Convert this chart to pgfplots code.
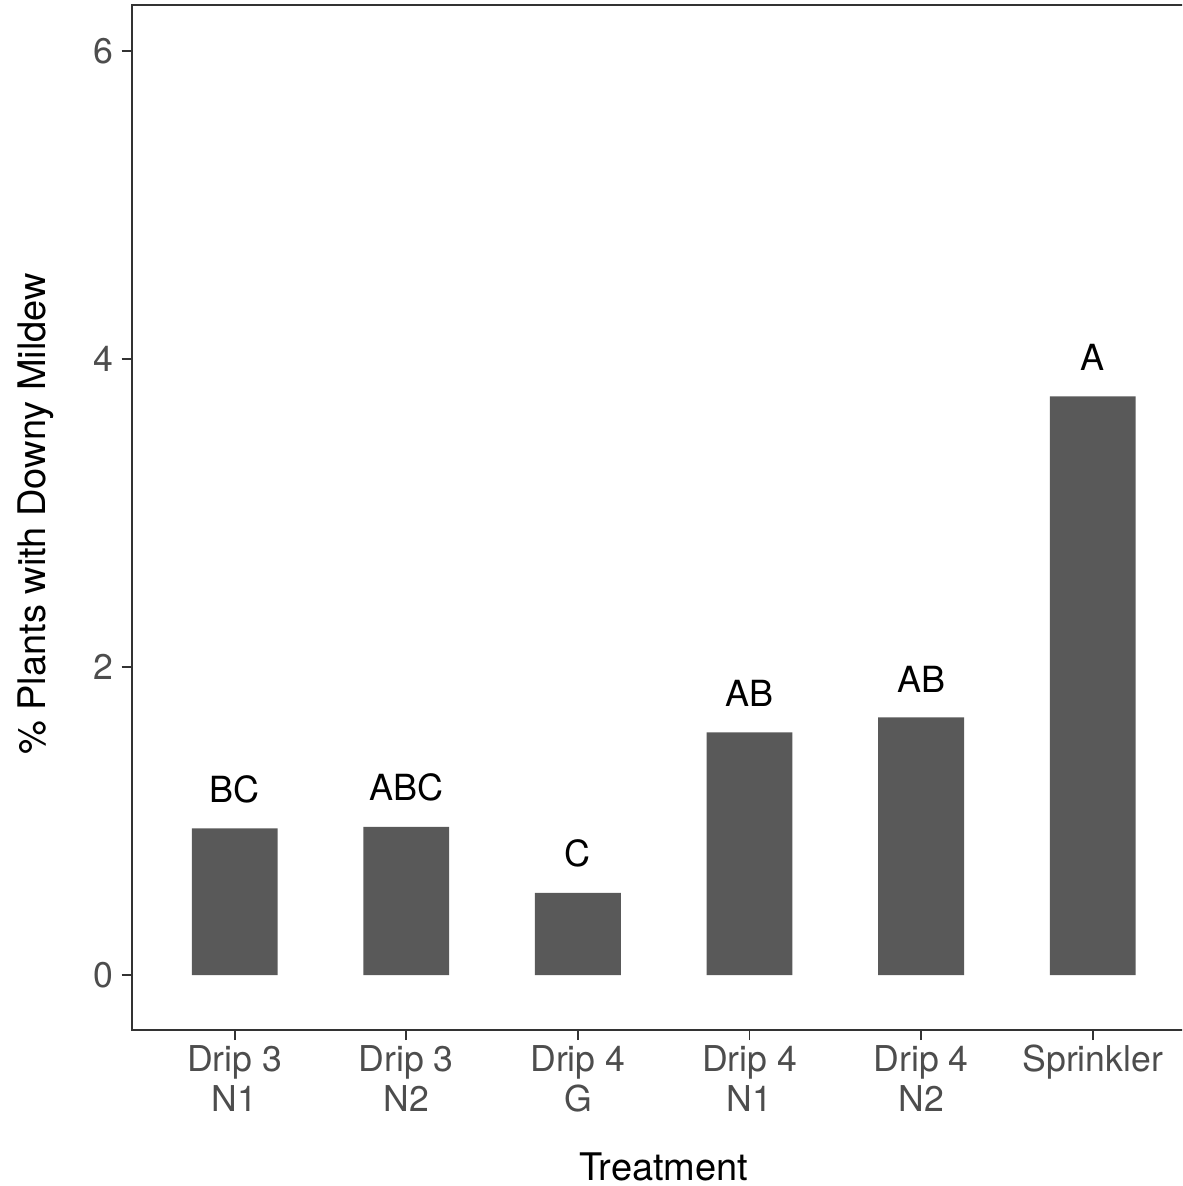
\documentclass[border=0pt]{standalone}
\usepackage{fontspec}
\setmainfont{TeX Gyre Heros}
\usepackage{pgfplots}
\usepackage{pgfplotstable}
\pgfplotsset{compat=1.18}
\definecolor{barfill}{HTML}{595959}
\definecolor{ticktext}{HTML}{4D4D4D}
\definecolor{framecol}{HTML}{333333}

\pgfplotstableread{
x y lab
1 0.953 BC
2 0.963 ABC
3 0.534 C
4 1.576 AB
5 1.673 AB
6 3.758 A
}\datatable

\begin{document}
\begin{tikzpicture}
\useasboundingbox (-65.85pt,-78pt) rectangle (525.15pt,515pt);
\clip (-65.85pt,-78pt) rectangle (525.15pt,515pt);
\begin{axis}[
  at={(0pt,0pt)}, anchor=south west,
  scale only axis, width=532pt, height=512.5pt,
  xmin=0.4, xmax=6.6, ymin=-0.357, ymax=6.3,
  axis line style={framecol, line width=0.9pt},
  tick style={framecol, line width=0.9pt},
  tick align=outside, major tick length=5pt,
  tick pos=left,
  xtick={1,2,3,4,5,6},
  xticklabels={{Drip 3\\N1},{Drip 3\\N2},{Drip 4\\G},{Drip 4\\N1},{Drip 4\\N2},{Sprinkler}},
  ytick={0,2,4,6},
  /pgf/number format/assume math mode=true,
  tick label style={font=\fontsize{17.8}{20}\selectfont, text=ticktext},
  xticklabel style={align=center, inner sep=0pt, yshift=-2.5pt},
  yticklabel style={inner sep=0pt, xshift=-4pt},
  xlabel={Treatment},
  xlabel style={at={(axis description cs:0.5,-0.14634)}, anchor=base, font=\fontsize{19}{22}\selectfont, text=black},
  ylabel={\% Plants with Downy Mildew},
  ylabel style={at={(axis description cs:-0.0810,0.5034)}, anchor=base, font=\fontsize{19}{22}\selectfont, text=black},
]
\addplot[ybar, bar width=0.5, fill=barfill, draw=none,
  nodes near coords, point meta=explicit symbolic,
  every node near coord/.append style={inner sep=0pt, yshift=12.5pt, font=\fontsize{18}{20}\selectfont, text=black}]
  table[x=x, y=y, meta=lab] {\datatable};
\end{axis}
\end{tikzpicture}
\end{document}
